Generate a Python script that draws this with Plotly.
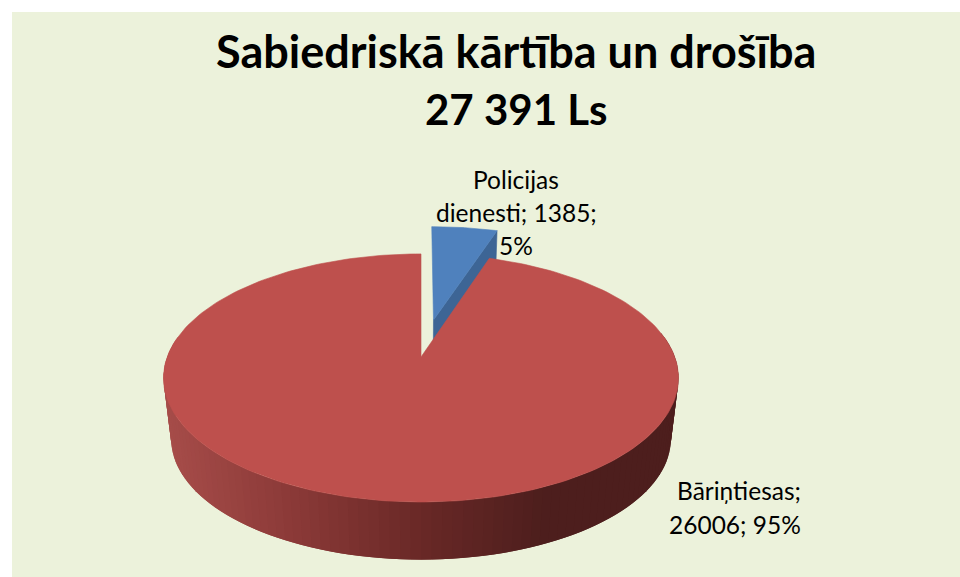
import math
import plotly.graph_objects as go

# ---- data ----
categories = ["Policijas dienesti", "Bāriņtiesas"]
values = [1385, 26006]
title_lines = ["Sabiedriskā kārtība un drošība", "27 391 Ls"]

# ---- styles / projection ----
BG = "#ECF2DB"
BLUE_TOP, BLUE_WALL = "#4F81BD", "#3D6595"
RED_TOP = "#BE504D"
FONT = "Lato"
CX, CY, A, B, K = 421.0, 357.0, 253.8, 120.5, 0.169
DROP, SHRINK = 62.0, 0.97
EXPLODE = 0.328

total = sum(values)
shares = [v / total for v in values]


def project(x, z, bottom=False):
    w = 1 + K * z
    s = SHRINK if bottom else 1.0
    return CX + s * A * x / w, CY + (DROP if bottom else 0) - s * B * z / w


def rim(t0, t1, ox=0.0, oz=0.0, bottom=False, n=240):
    pts = []
    for i in range(n + 1):
        t = math.radians(t0 + (t1 - t0) * i / n)
        pts.append(project(ox + math.sin(t), oz + math.cos(t), bottom))
    return pts


def poly(pts, color, width=0.6):
    xs = [p[0] for p in pts] + [pts[0][0]]
    ys = [p[1] for p in pts] + [pts[0][1]]
    return go.Scatter(x=xs, y=ys, mode="lines", fill="toself", fillcolor=color,
                      line=dict(color=color, width=width),
                      hoverinfo="skip", showlegend=False)


STOPS = [(165, (166, 76, 73)), (290, (138, 57, 55)), (420, (104, 40, 38)),
         (540, (77, 30, 29)), (680, (77, 30, 29))]


def wall_color(x):
    for (x0, c0), (x1, c1) in zip(STOPS, STOPS[1:]):
        if x <= x1:
            f = max(0.0, (x - x0) / (x1 - x0))
            return "rgb(%d,%d,%d)" % tuple(round(a + (b - a) * f) for a, b in zip(c0, c1))
    return "rgb(%d,%d,%d)" % STOPS[-1][1]


blue_end = shares[0] * 360
mid = math.radians(blue_end / 2)
ox, oz = EXPLODE * math.sin(mid), EXPLODE * math.cos(mid)

fig = go.Figure()

# exploded blue slice: inner wall, then top
e = math.radians(blue_end)
fig.add_trace(poly([project(ox, oz), project(ox + math.sin(e), oz + math.cos(e)),
                    project(ox + math.sin(e), oz + math.cos(e), True), project(ox, oz, True)], BLUE_WALL))
fig.add_trace(poly([project(ox, oz)] + rim(0, blue_end, ox, oz, n=40), BLUE_TOP))

# red outer wall: one overlapping band per step, shading from left to right
STEP = 2.0
t = 280.0
while t > 80.0:
    top = rim(t - 2 * STEP, t, n=4)
    bot = rim(t - 2 * STEP, t, bottom=True, n=4)
    fig.add_trace(poly(top + bot[::-1], wall_color(top[-1][0]), width=0))
    t -= STEP

# red top
fig.add_trace(poly([project(0, 0)] + rim(blue_end, 360), RED_TOP))


def note(x, y, text, size, bold=False):
    fig.add_annotation(x=x, y=y, text=f"<b>{text}</b>" if bold else text, showarrow=False,
                       xref="x", yref="y", xanchor="center", yanchor="middle",
                       font=dict(family=FONT, size=size, color="#000000"))


note(516, 51, title_lines[0], 45, True)
note(515.5, 109, title_lines[1], 42, True)

p0 = round(shares[0] * 100)
p1 = round(shares[1] * 100)
w0 = categories[0].split(" ")
note(516, 179, w0[0], 24.5)
note(516.5, 212, f"{w0[1]}; {values[0]};", 24.5)
note(516, 245, f"{p0}%", 24.5)
note(738.5, 490.5, f"{categories[1]};", 24.5)
note(735, 524, f"{values[1]}; {p1}%", 24.5)

fig.update_layout(
    width=960, height=577, autosize=False,
    margin=dict(l=12, r=0, t=12, b=0),
    paper_bgcolor="#FFFFFF", plot_bgcolor=BG,
    xaxis=dict(range=[12, 960], visible=False, fixedrange=True),
    yaxis=dict(range=[577, 12], visible=False, fixedrange=True),
    showlegend=False,
)
fig.write_html("out.html", config={"displayModeBar": False},
               post_script="document.body.style.margin='0';document.body.style.overflow='hidden';")
